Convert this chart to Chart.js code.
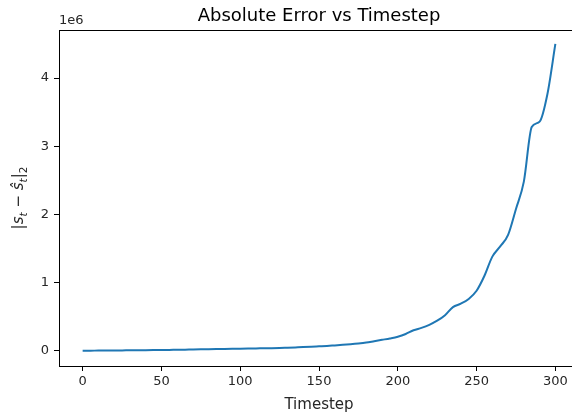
<!DOCTYPE html>
<html>
<head>
<meta charset="utf-8">
<title>Absolute Error vs Timestep</title>
<script src="https://cdn.jsdelivr.net/npm/chart.js@4/dist/chart.umd.min.js"></script>
<style>
  html, body { margin: 0; padding: 0; background: #fff; overflow: hidden; }
  #wrap { width: 584px; height: 419px; }
</style>
</head>
<body>
<div id="wrap"><canvas id="chart" width="584" height="419"></canvas></div>
<script>
// Timesteps sampled every 5 steps
const timesteps = [
  0, 5, 10, 15, 20, 25, 30, 35, 40, 45,
  50, 55, 60, 65, 70, 75, 80, 85, 90, 95,
  100, 105, 110, 115, 120, 125, 130, 135, 140, 145,
  150, 155, 160, 165, 170, 175, 180, 185, 190, 195,
  200, 205, 210, 215, 220, 225, 230, 235, 240, 245,
  250, 255, 260, 265, 270, 275, 280, 285, 290, 295, 300
];

// Absolute error |s_t - ŝ_t|_2 at each timestep
const absError = [
  0, 1000, 2000, 3000, 4000, 5000, 6000, 7000, 8000, 9000,
  10000, 12000, 14000, 16000, 18000, 20000, 22000, 24000, 26000, 28000,
  30000, 32000, 34000, 36000, 38000, 41000, 45000, 49000, 53000, 58000,
  64000, 70000, 78000, 86000, 95000, 106000, 120000, 140000, 160000, 180000,
  205000, 245000, 300000, 335000, 380000, 440000, 520000, 640000, 690000, 760000,
  880000, 1100000, 1380000, 1530000, 1700000, 2080000, 2480000, 3280000, 3360000, 3770000, 4500000
];

// Y-axis tick values (shown scaled by the 1e6 offset)
const yTickValues = [0, 1000000, 2000000, 3000000, 4000000];
const yScaleFactor = 1e6;
const xTickValues = [0, 50, 100, 150, 200, 250, 300];

const points = timesteps.map((t, i) => ({ x: t, y: absError[i] }));

const FONT = "'DejaVu Sans', sans-serif";

// Frame, title, offset text and axis labels
const decorations = {
  id: 'decorations',
  afterDraw(chart) {
    const { ctx, chartArea: a } = chart;
    ctx.save();
    // full box around the plot area
    ctx.strokeStyle = '#000';
    ctx.lineWidth = 1;
    ctx.strokeRect(Math.round(a.left) + 0.5, Math.round(a.top) + 0.5,
                   Math.round(a.right - a.left), Math.round(a.bottom - a.top));

    const cx = (a.left + a.right) / 2;
    ctx.fillStyle = '#000';
    ctx.textBaseline = 'alphabetic';

    // title
    ctx.font = `18px ${FONT}`;
    ctx.textAlign = 'center';
    ctx.fillText('Absolute Error vs Timestep', cx, a.top - 9);

    // offset text
    ctx.font = `13px ${FONT}`;
    ctx.textAlign = 'left';
    ctx.fillStyle = '#262626';
    ctx.fillText('1e6', a.left, a.top - 6);

    // x label
    ctx.font = `15px ${FONT}`;
    ctx.textAlign = 'center';
    ctx.fillText('Timestep', cx, 409);

    // y label: |s_t − ŝ_t|_2
    const cy = (a.top + a.bottom) / 2;
    ctx.translate(23, cy);
    ctx.rotate(-Math.PI / 2);
    const main = `15px ${FONT}`;
    const ital = `italic 15px ${FONT}`;
    const sub = `italic 10.5px ${FONT}`;
    const subR = `10.5px ${FONT}`;
    const parts = [
      { t: '|', f: main, dy: 0 },
      { t: 's', f: ital, dy: 0 },
      { t: 't', f: sub, dy: 3.5 },
      { t: ' \u2212 ', f: main, dy: 0 },
      { t: '\u015D', f: ital, dy: 0 },
      { t: 't', f: sub, dy: 3.5 },
      { t: '|', f: main, dy: 0 },
      { t: '2', f: subR, dy: 3.5 }
    ];
    let total = 0;
    parts.forEach(p => { ctx.font = p.f; p.w = ctx.measureText(p.t).width; total += p.w; });
    let x = -total / 2;
    ctx.textAlign = 'left';
    parts.forEach(p => {
      ctx.font = p.f;
      ctx.fillText(p.t, x, p.dy);
      x += p.w;
    });
    ctx.restore();
  }
};

new Chart(document.getElementById('chart'), {
  type: 'line',
  data: {
    datasets: [{
      data: points,
      borderColor: '#1f77b4',
      borderWidth: 2,
      pointRadius: 0,
      fill: false,
      cubicInterpolationMode: 'monotone'
    }]
  },
  options: {
    responsive: false,
    animation: false,
    devicePixelRatio: 1,
    layout: { padding: { top: 30, left: 0, right: 5, bottom: 0 } },
    plugins: { legend: { display: false }, title: { display: false }, tooltip: { enabled: false } },
    scales: {
      x: {
        type: 'linear',
        min: -15,
        max: 315,
        afterFit(s) { s.height = 53; },
        afterBuildTicks(s) { s.ticks = xTickValues.map(v => ({ value: v })); },
        grid: { display: true, drawOnChartArea: false, drawTicks: true, tickLength: 5, color: '#000', lineWidth: 1 },
        border: { display: true, color: '#000', width: 1 },
        ticks: { color: '#262626', font: { family: FONT, size: 13 }, padding: 3, maxRotation: 0, autoSkip: false }
      },
      y: {
        type: 'linear',
        min: -224000,
        max: 4704000,
        afterFit(s) { s.width = 59; },
        afterBuildTicks(s) { s.ticks = yTickValues.map(v => ({ value: v })); },
        grid: { display: true, drawOnChartArea: false, drawTicks: true, tickLength: 5, color: '#000', lineWidth: 1 },
        border: { display: true, color: '#000', width: 1 },
        ticks: {
          color: '#262626', font: { family: FONT, size: 13 }, padding: 5,
          callback: v => String(Math.round(v / yScaleFactor))
        }
      }
    }
  },
  plugins: [decorations]
});
</script>
</body>
</html>
